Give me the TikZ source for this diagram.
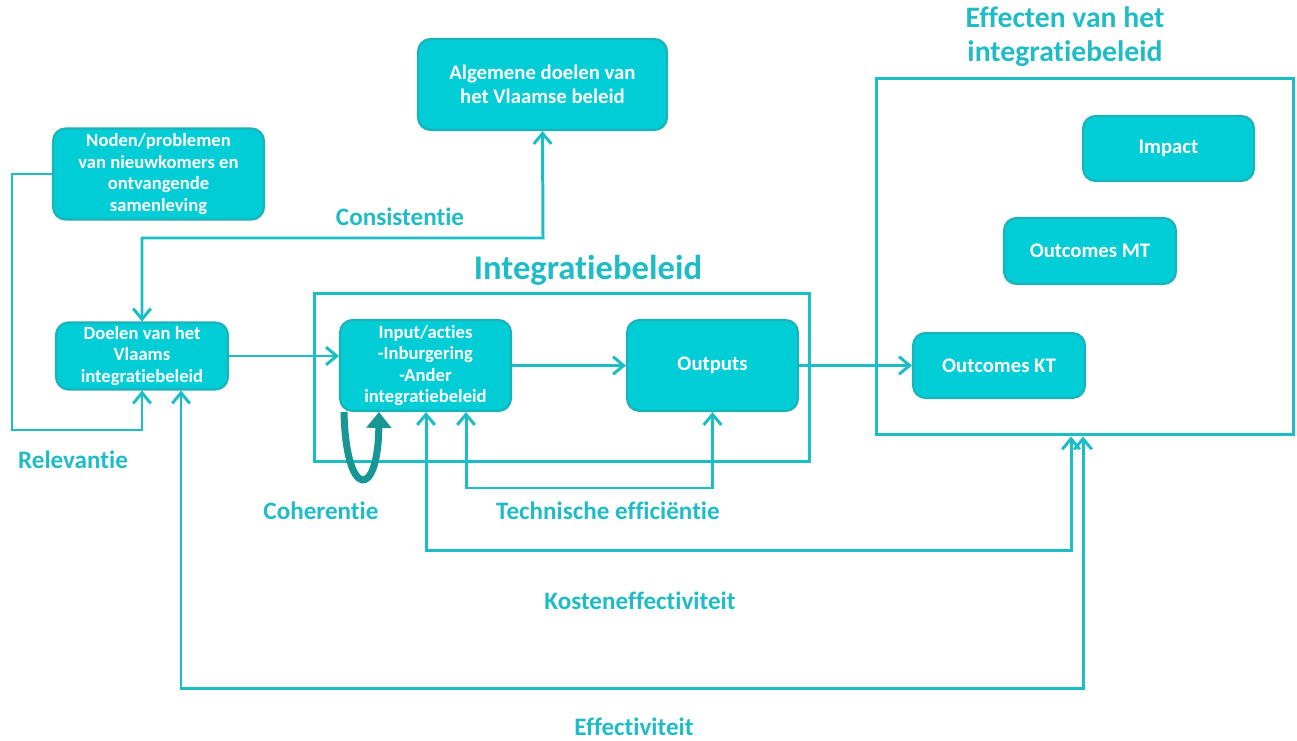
\documentclass[tikz,border=0pt]{standalone}
\usepackage{fontspec}
\setmainfont[Ligatures=NoCommon]{Carlito}
\usetikzlibrary{arrows.meta}
\definecolor{boxfill}{RGB}{0,205,214}
\definecolor{boxline}{RGB}{28,178,184}
\definecolor{conn}{RGB}{28,190,198}
\definecolor{lbl}{RGB}{32,188,198}
\definecolor{loopc}{RGB}{24,150,150}
\begin{document}
\begin{tikzpicture}[x=0.02cm,y=-0.02cm,
 box/.style={draw=boxline, line width=1.2pt, fill=boxfill, rounded corners=0.25cm, text=white, font=\bfseries\fontsize{10.6}{12.2}\selectfont, align=center, inner sep=0pt},
 bigbox/.style={box, font=\bfseries\fontsize{11.8}{13.6}\selectfont},
 frame/.style={draw=conn, line width=1.7pt, inner sep=0pt},
 wire/.style={draw=conn, line width=1.7pt},
 arr/.style={wire, -{Straight Barb[length=6pt,width=10pt]}},
 darr/.style={wire, {Straight Barb[length=6pt,width=10pt]}-{Straight Barb[length=6pt,width=10pt]}},
 lab/.style={text=lbl, font=\bfseries\fontsize{14.3}{16}\selectfont, inner sep=0pt},
 ]
\useasboundingbox (0,0) rectangle (1297,740);

% frames
\node[frame, minimum width=9.92cm, minimum height=3.38cm] (integ) at (562,377.5) {};
\node[frame, minimum width=8.36cm, minimum height=7.14cm] (eff) at (1085,256.5) {};

% boxes
\node[box, minimum width=4.22cm, minimum height=1.82cm] (noden) at (158.5,174) {Noden/problemen\\van nieuwkomers en\\ontvangende\\samenleving};
\node[bigbox, minimum width=4.98cm, minimum height=1.82cm] (algemene) at (542.5,84.5) {Algemene doelen van\\het Vlaamse beleid};
\node[box, minimum width=3.44cm, minimum height=1.34cm] (doelen) at (142,356) {Doelen van het\\Vlaams\\integratiebeleid};
\node[box, minimum width=3.42cm, minimum height=1.82cm] (input) at (425.5,365.5) {Input/acties\\-Inburgering\\-Ander\\integratiebeleid};
\node[bigbox, minimum width=3.42cm, minimum height=1.82cm] (outputs) at (712.5,365.5) {Outputs};
\node[bigbox, minimum width=3.42cm, minimum height=1.30cm] (impact) at (1168.5,148.5) {Impact};
\node[bigbox, minimum width=3.44cm, minimum height=1.32cm] (mt) at (1090,251) {Outcomes MT};
\node[bigbox, minimum width=3.44cm, minimum height=1.30cm] (kt) at (999,365.5) {Outcomes KT};

% titles and labels
\node[lab, font=\bfseries\fontsize{19.7}{22}\selectfont] (tInteg) at (588,270) {Integratiebeleid};
\node[lab, font=\bfseries\fontsize{16.9}{19.3}\selectfont, align=center] (tEff) at (1065,37) {Effecten van het\\integratiebeleid};
\node[lab] (lRel) at (73,460) {Relevantie};
\node[lab] (lCons) at (400,217) {Consistentie};
\node[lab] (lCoh) at (321,511) {Coherentie};
\node[lab] (lTech) at (608,511) {Technische efficiëntie};
\node[lab] (lKost) at (640,601) {Kosteneffectiviteit};
\node[lab] (lEff) at (634,727) {Effectiviteit};

% bend coordinates
\coordinate (relL) at (12,430);
\coordinate (consY) at (543,238);
\coordinate (tech) at (466,488);
\coordinate (kost) at (426,550);
\coordinate (kostR) at (1071,0);
\coordinate (effc) at (181,688);
\coordinate (effR) at (1083,0);
\coordinate (loopA) at (344,0);
\coordinate (loopB) at (379,0);

% connectors
\draw[arr] (noden.west) -| (relL) -| (doelen.south);
\draw[darr] (doelen.north) |- (consY) -- (algemene.south);
\draw[arr] (doelen.east) -- (doelen.east -| input.west);
\draw[arr] (input.east) -- (outputs.west);
\draw[arr] (outputs.east) -- (kt.west);
\draw[darr] (input.south -| tech) -- (tech) -| (outputs.south);
\draw[darr] (input.south -| kost) -- (kost) -| (eff.south -| kostR);
\draw[darr] (doelen.south -| effc) -- (effc) -| (eff.south -| effR);

% coherentie loop
\draw[loopc, line width=4pt, -{Triangle[length=9pt,width=14pt]}] (input.south -| loopA) .. controls (346,500) and (378,500) .. (input.south -| loopB);
\end{tikzpicture}
\end{document}
